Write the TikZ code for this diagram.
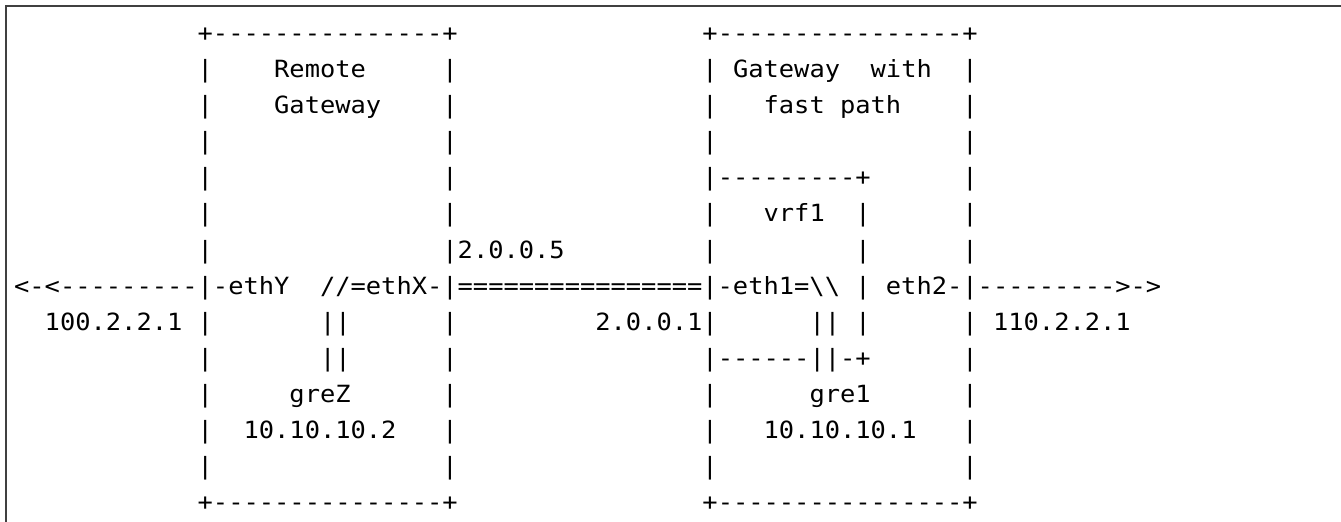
\documentclass[tikz,border=0pt]{standalone}
\usepackage{fontspec}
\setmonofont{DejaVu Sans Mono}[FakeStretch=1.072]

\begin{document}
\begin{tikzpicture}[
  x=7.65pt, y=-18.05pt,
  asciirow/.style={anchor=base west,inner sep=0pt,font=\ttfamily\fontsize{11.85}{14}\selectfont},
  frame/.style={draw=black!75,line width=1pt}
]
\useasboundingbox (-6.875pt,20.75pt) rectangle (663.625pt,-240.25pt);
\draw[frame] (663.625pt,17.75pt) -| (-3.625pt,-240.25pt);
% remote gateway (left) and fast path gateway (right)
\node[asciirow] (row0)  at (0,0)  {~~~~~~~~~~~~+---------------+~~~~~~~~~~~~~~~~+----------------+};
\node[asciirow] (row1)  at (0,1)  {~~~~~~~~~~~~|~~~~Remote~~~~~|~~~~~~~~~~~~~~~~|~Gateway~~with~~|};
\node[asciirow] (row2)  at (0,2)  {~~~~~~~~~~~~|~~~~Gateway~~~~|~~~~~~~~~~~~~~~~|~~~fast~path~~~~|};
\node[asciirow] (row3)  at (0,3)  {~~~~~~~~~~~~|~~~~~~~~~~~~~~~|~~~~~~~~~~~~~~~~|~~~~~~~~~~~~~~~~|};
\node[asciirow] (row4)  at (0,4)  {~~~~~~~~~~~~|~~~~~~~~~~~~~~~|~~~~~~~~~~~~~~~~|---------+~~~~~~|};
\node[asciirow] (row5)  at (0,5)  {~~~~~~~~~~~~|~~~~~~~~~~~~~~~|~~~~~~~~~~~~~~~~|~~~vrf1~~|~~~~~~|};
\node[asciirow] (row6)  at (0,6)  {~~~~~~~~~~~~|~~~~~~~~~~~~~~~|2.0.0.5~~~~~~~~~|~~~~~~~~~|~~~~~~|};
% links
\node[asciirow] (row7)  at (0,7)  {<-<---------|-ethY~~//=ethX-|================|-eth1=\textbackslash\textbackslash~|~eth2-|--------->->};
\node[asciirow] (row8)  at (0,8)  {~~100.2.2.1~|~~~~~~~||~~~~~~|~~~~~~~~~2.0.0.1|~~~~~~||~|~~~~~~|~110.2.2.1};
\node[asciirow] (row9)  at (0,9)  {~~~~~~~~~~~~|~~~~~~~||~~~~~~|~~~~~~~~~~~~~~~~|------||-+~~~~~~|};
% gre tunnels
\node[asciirow] (row10) at (0,10) {~~~~~~~~~~~~|~~~~~greZ~~~~~~|~~~~~~~~~~~~~~~~|~~~~~~gre1~~~~~~|};
\node[asciirow] (row11) at (0,11) {~~~~~~~~~~~~|~~10.10.10.2~~~|~~~~~~~~~~~~~~~~|~~~10.10.10.1~~~|};
\node[asciirow] (row12) at (0,12) {~~~~~~~~~~~~|~~~~~~~~~~~~~~~|~~~~~~~~~~~~~~~~|~~~~~~~~~~~~~~~~|};
\node[asciirow] (row13) at (0,13) {~~~~~~~~~~~~+---------------+~~~~~~~~~~~~~~~~+----------------+};
\end{tikzpicture}
\end{document}
